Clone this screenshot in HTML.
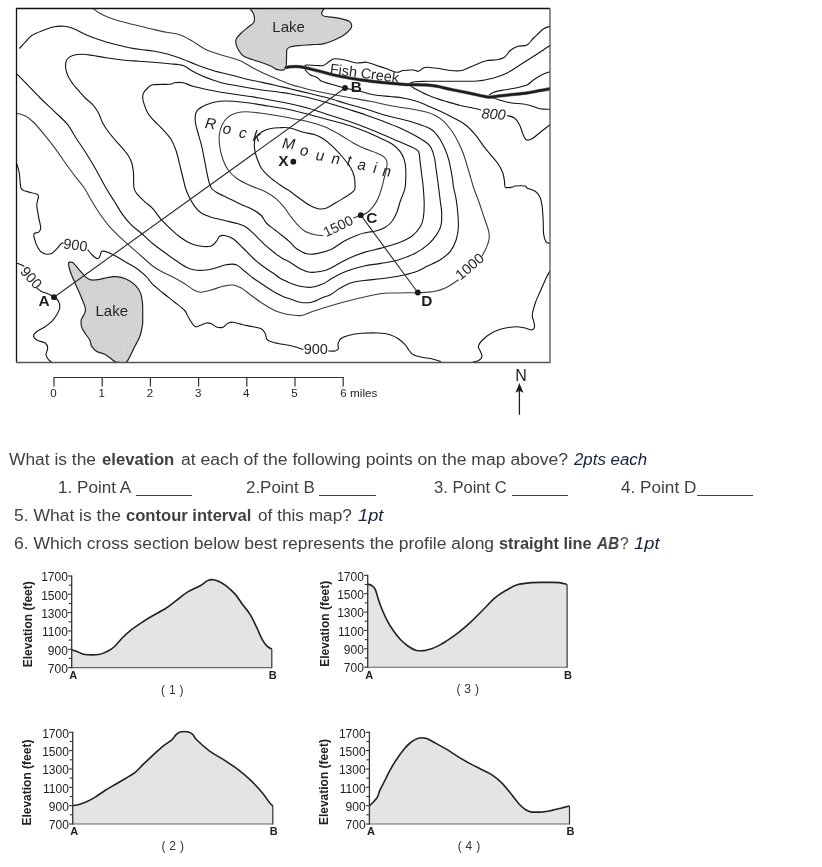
<!DOCTYPE html>
<html><head><meta charset="utf-8"><title>Topographic map worksheet</title>
<style>
html,body{margin:0;padding:0;background:#fff;}
body{width:822px;height:867px;position:relative;overflow:hidden;font-family:"Liberation Sans",sans-serif;}
svg{position:absolute;left:0;top:0;will-change:transform;}
.q{will-change:transform;}
svg text{font-family:"Liberation Sans",sans-serif;}
.q{position:absolute;white-space:nowrap;font-size:15.8px;line-height:20px;color:#404040;transform-origin:0 0;}
.q b{font-weight:bold;}
.q i{font-style:italic;color:#172140;}
.ul{position:absolute;height:1px;background:#404040;}
</style></head><body>


<div class="q" style="left:8.8px;top:449.5px;transform:scaleX(1.1010);">What is the</div>
<div class="q" style="left:102.4px;top:449.5px;transform:scaleX(1.0557);"><b>elevation</b></div>
<div class="q" style="left:180.7px;top:449.5px;transform:scaleX(1.1131);">at each of the following points on the map above?</div>
<div class="q" style="left:574.2px;top:449.5px;transform:scaleX(1.0669);"><i>2pts each</i></div>
<div class="q" style="left:57.5px;top:477.5px;transform:scaleX(1.0824);">1. Point A</div>
<div class="q" style="left:245.9px;top:477.5px;transform:scaleX(1.0716);">2.Point B</div>
<div class="q" style="left:433.7px;top:477.5px;transform:scaleX(1.0479);">3. Point C</div>
<div class="q" style="left:621.2px;top:477.5px;transform:scaleX(1.0854);">4. Point D</div>
<div class="q" style="left:13.6px;top:505.6px;transform:scaleX(1.1067);">5. What is the</div>
<div class="q" style="left:125.5px;top:505.6px;transform:scaleX(1.0505);"><b>contour interval</b></div>
<div class="q" style="left:257.7px;top:505.6px;transform:scaleX(1.0899);">of this map?</div>
<div class="q" style="left:358.0px;top:505.6px;transform:scaleX(1.1562);"><i>1pt</i></div>
<div class="q" style="left:13.6px;top:533.8px;transform:scaleX(1.1068);">6. Which cross section below best represents the profile along</div>
<div class="q" style="left:498.7px;top:533.8px;transform:scaleX(1.0354);"><b>straight line</b></div>
<div class="q" style="left:596.6px;top:533.8px;transform:scaleX(0.9637);"><b><em>AB</em></b></div>
<div class="q" style="left:619.6px;top:533.8px;transform:scaleX(0.9776);">?</div>
<div class="q" style="left:634.3px;top:533.8px;transform:scaleX(1.1607);"><i>1pt</i></div>
<div class="ul" style="left:135.5px;top:495px;width:56.5px;"></div>
<div class="ul" style="left:319px;top:495px;width:57px;"></div>
<div class="ul" style="left:511.7px;top:495px;width:56.5px;"></div>
<div class="ul" style="left:696.5px;top:495px;width:56px;"></div>

<svg width="822" height="867" viewBox="0 0 822 867">
<defs><pattern id="dots" width="2.4" height="2.4" patternUnits="userSpaceOnUse" patternTransform="rotate(45)"><rect width="2.4" height="2.4" fill="#d9d9d9"/><rect width="1.1" height="1.1" fill="#bcbcbc"/></pattern><clipPath id="fr"><rect x="16.5" y="8.5" width="533.5" height="354"/></clipPath></defs>
<g clip-path="url(#fr)">
<path d="M249.7 8.0C250.4 9.1 253.1 12.3 253.8 14.7C254.5 17.1 254.8 20.1 253.8 22.2C252.8 24.3 250.1 25.4 248.0 27.2C245.9 29.0 243.2 31.1 241.3 33.0C239.4 34.9 237.2 37.0 236.3 38.8C235.4 40.6 235.6 41.8 236.0 43.8C236.4 45.8 237.5 48.4 238.8 50.5C240.1 52.6 241.4 54.8 243.8 56.3C246.2 57.8 249.8 58.6 253.0 59.7C256.2 60.8 259.9 61.9 263.0 63.0C266.1 64.1 268.9 65.2 271.3 66.3C273.7 67.4 275.1 69.1 277.2 69.7C279.3 70.3 282.7 70.0 283.8 70.0 L286.3 67.2 L286.7 49.7 L286.7 49.7C287.2 49.2 287.8 47.7 290.0 47.0C292.2 46.3 296.4 45.9 300.0 45.5C303.6 45.1 307.8 45.0 311.7 44.7C315.6 44.4 319.7 44.5 323.3 43.8C326.9 43.1 330.0 41.9 333.3 40.5C336.6 39.1 340.5 37.3 343.3 35.5C346.1 33.7 348.6 31.4 350.0 29.7C351.4 28.0 351.8 26.9 351.7 25.5C351.6 24.1 350.9 22.4 349.2 21.3C347.5 20.2 344.6 19.5 341.7 18.8C338.8 18.1 334.6 17.6 331.7 17.2C328.8 16.8 325.9 16.9 324.2 16.3C322.5 15.7 321.8 14.9 321.7 13.8C321.6 12.7 322.6 10.7 323.3 9.7C324.0 8.7 325.4 8.3 325.8 8.0 Z" fill="url(#dots)" stroke="#222" stroke-width="1.2"/>
<path d="M68.6 262.9C69.0 262.1 71.4 261.8 72.7 262.6C74.0 263.4 77.5 267.9 79.0 269.6C80.5 271.3 83.3 274.6 84.7 275.9C86.1 277.2 88.1 279.2 89.8 279.7C91.5 280.2 96.3 279.9 98.1 279.7C99.9 279.5 102.5 278.6 104.4 278.2C106.3 277.8 111.0 276.7 113.3 276.6C115.6 276.5 120.1 277.0 122.2 277.6C124.3 278.2 128.0 279.9 129.8 281.0C131.6 282.1 134.7 284.6 136.1 286.1C137.5 287.6 139.8 290.9 140.6 293.1C141.4 295.3 142.2 300.5 142.5 303.2C142.8 305.9 142.7 311.9 142.7 314.6C142.7 317.3 142.9 322.1 142.5 324.8C142.1 327.5 141.0 333.3 139.9 336.2C138.8 339.1 135.6 344.9 134.2 347.6C132.8 350.3 130.2 356.0 129.2 357.8C128.2 359.6 127.7 361.6 126.0 362.2C124.3 362.8 117.7 362.7 115.8 362.2C113.9 361.7 112.2 359.4 110.8 358.4C109.4 357.4 106.2 354.9 104.4 354.0C102.6 353.1 98.4 352.4 96.8 351.4C95.2 350.4 92.6 347.8 91.7 346.4C90.8 345.0 90.6 341.6 89.8 340.0C89.0 338.4 86.4 335.3 85.4 333.7C84.4 332.1 82.3 329.1 81.8 327.3C81.3 325.5 80.9 321.5 81.3 319.7C81.7 317.9 84.2 314.8 84.7 313.4C85.2 312.0 85.7 310.1 85.4 308.3C85.1 306.5 83.2 301.8 82.2 299.4C81.2 297.0 79.0 292.0 77.8 289.3C76.6 286.6 73.8 280.4 72.7 277.8C71.6 275.2 70.0 270.9 69.5 269.0C69.0 267.1 68.2 263.7 68.6 262.9Z" fill="url(#dots)" stroke="#222" stroke-width="1.2"/>
<path d="M92.7 8.0C93.8 8.8 96.5 11.4 99.3 13.0C102.1 14.6 105.1 16.2 109.3 17.7C113.5 19.2 119.3 20.8 124.3 22.2C129.3 23.6 134.5 24.8 139.3 26.0C144.1 27.2 148.5 28.3 153.0 29.3C157.5 30.3 161.9 31.3 166.3 32.2C170.8 33.1 175.5 33.3 179.7 34.7C183.9 36.1 186.9 38.0 191.3 40.5C195.7 43.0 201.0 47.2 206.3 49.7C211.6 52.2 217.4 53.7 223.0 55.5C228.6 57.3 234.1 58.1 239.7 60.5C245.2 62.9 250.8 66.9 256.3 69.7C261.9 72.5 267.4 74.8 273.0 77.2C278.6 79.6 284.9 82.4 290.0 84.2C295.1 86.0 298.9 86.8 303.3 88.0C307.8 89.2 311.6 90.2 316.7 91.3C321.8 92.4 328.2 93.7 334.0 94.8C339.8 95.9 345.7 96.9 351.7 98.0C357.7 99.1 363.6 100.0 370.0 101.3C376.4 102.5 383.3 104.2 390.0 105.5C396.7 106.8 403.8 107.7 410.0 108.8C416.2 109.9 422.8 111.1 427.0 112.2C431.2 113.3 432.5 114.0 435.3 115.5C438.1 117.0 440.9 118.7 443.7 121.3C446.5 123.9 449.5 127.7 452.0 131.3C454.5 134.9 456.8 139.1 458.7 143.0C460.6 146.9 462.2 150.5 463.7 154.7C465.2 158.9 466.6 163.8 467.8 168.0C469.1 172.2 470.2 176.4 471.2 179.7C472.2 183.0 472.4 184.4 473.7 188.0C474.9 191.6 477.0 196.6 478.7 201.3C480.4 206.0 482.0 211.3 483.7 216.3C485.4 221.3 487.8 227.4 488.7 231.3C489.6 235.2 489.4 236.9 489.0 239.7C488.6 242.5 487.4 245.2 486.2 248.0C485.0 250.8 482.7 254.9 482.0 256.3" fill="none" stroke="#3a3a3a" stroke-width="1.1" stroke-linejoin="round"/>
<path d="M458.7 279.7C457.9 280.2 455.9 281.6 453.7 283.0C451.5 284.4 448.4 286.6 445.3 288.0C442.2 289.4 438.4 290.6 435.3 291.3C432.2 292.0 429.9 292.0 427.0 292.2C424.1 292.4 423.4 292.6 417.8 292.7C412.2 292.8 399.6 292.8 393.3 293.0C387.0 293.2 386.1 292.8 380.0 293.8C373.9 294.8 364.8 296.9 356.7 298.8C348.6 300.8 338.9 303.4 331.7 305.5C324.5 307.6 318.3 309.6 313.3 311.3C308.3 313.0 305.6 314.9 301.7 315.5C297.8 316.1 292.8 315.0 290.0 314.7C287.2 314.4 287.2 314.5 284.7 313.8C282.1 313.1 278.3 312.2 274.7 310.5C271.1 308.8 266.9 306.3 263.0 303.8C259.1 301.3 254.9 298.1 251.3 295.5C247.7 292.9 244.4 289.8 241.3 288.0C238.2 286.2 236.1 285.3 233.0 285.0C229.9 284.7 226.6 285.5 223.0 286.3C219.4 287.1 214.9 289.0 211.3 290.0C207.7 291.0 204.1 292.1 201.3 292.2C198.5 292.3 197.5 291.9 194.7 290.5C191.9 289.1 188.0 285.9 184.7 283.8C181.4 281.7 178.3 279.9 174.7 278.0C171.1 276.1 166.6 274.1 163.0 272.2C159.4 270.2 157.5 269.8 153.0 266.3C148.5 262.8 141.1 255.7 136.0 251.3C130.9 246.9 127.2 243.9 122.7 239.7C118.2 235.5 113.2 230.8 109.3 226.3C105.4 221.9 102.3 217.4 99.3 213.0C96.2 208.6 93.5 203.9 91.0 199.7C88.5 195.5 86.5 191.3 84.3 188.0C82.1 184.7 80.5 183.3 77.7 179.7C74.9 176.1 71.3 171.3 67.7 166.3C64.1 161.3 59.9 155.0 56.0 149.7C52.1 144.4 47.9 139.1 44.3 134.7C40.7 130.2 37.3 126.1 34.3 123.0C31.2 119.9 28.9 117.9 26.0 116.3C23.1 114.7 18.3 113.8 16.8 113.3" fill="none" stroke="#3a3a3a" stroke-width="1.1" stroke-linejoin="round"/>
<path d="M353.3 218.0C354.6 217.5 358.6 216.0 360.8 215.2C363.0 214.4 364.6 214.5 366.7 213.0C368.8 211.5 371.4 208.8 373.3 206.3C375.2 203.8 376.9 201.1 378.3 198.0C379.7 194.9 380.7 191.3 381.7 188.0C382.7 184.7 383.4 181.1 384.2 178.0C385.0 174.9 385.8 172.3 386.3 169.7C386.8 167.1 387.4 164.3 387.0 162.2C386.6 160.1 385.9 158.7 384.2 157.2C382.5 155.7 380.2 154.5 376.7 153.0C373.2 151.5 367.2 149.7 363.3 148.0C359.4 146.3 357.2 145.2 353.3 143.0C349.4 140.8 345.0 137.5 340.0 134.7C335.0 131.9 328.9 128.5 323.3 126.3C317.8 124.1 312.2 122.7 306.7 121.3C301.1 119.9 295.1 119.0 290.0 118.0C284.9 117.0 281.4 116.3 276.3 115.5C271.2 114.7 264.7 113.6 259.7 113.0C254.7 112.4 250.2 111.7 246.3 111.7C242.4 111.7 239.4 112.1 236.3 113.0C233.2 113.9 230.3 115.2 228.0 117.2C225.7 119.2 223.6 121.8 222.2 124.7C220.8 127.6 219.7 131.1 219.3 134.7C218.9 138.3 219.1 142.1 219.7 146.3C220.3 150.5 221.6 155.8 223.0 159.7C224.4 163.6 225.8 166.6 228.0 169.7C230.2 172.8 233.2 175.7 236.3 178.0C239.4 180.3 243.0 182.1 246.3 183.8C249.6 185.5 253.0 186.6 256.3 188.0C259.6 189.4 263.0 190.4 266.3 192.2C269.6 194.0 273.2 196.2 276.3 198.8C279.4 201.4 282.4 205.2 284.7 208.0C287.0 210.8 288.0 212.9 290.0 215.5C292.0 218.1 294.2 221.2 296.7 223.8C299.2 226.4 301.9 229.5 305.0 231.3C308.1 233.1 311.9 234.0 315.0 234.7C318.1 235.4 321.9 235.4 323.3 235.5" fill="none" stroke="#3a3a3a" stroke-width="1.1" stroke-linejoin="round"/>
<path d="M19.3 48.5C20.4 47.3 23.9 43.5 26.0 41.3C28.1 39.1 29.0 37.3 31.8 35.5C34.6 33.7 39.0 32.0 42.7 30.5C46.5 29.0 50.7 27.4 54.3 26.7C57.9 26.0 61.2 26.0 64.3 26.3C67.4 26.6 69.1 26.9 72.7 28.3C76.3 29.7 81.6 32.8 86.0 34.7C90.4 36.6 94.8 38.2 99.3 39.7C103.8 41.2 107.7 42.5 112.7 43.8C117.7 45.1 124.3 46.7 129.3 47.7C134.3 48.7 138.8 49.2 142.7 49.7C146.6 50.2 149.1 50.3 153.0 51.0C156.9 51.7 161.9 52.6 166.3 53.8C170.8 55.0 174.7 56.2 179.7 58.0C184.7 59.8 190.8 62.6 196.3 64.7C201.9 66.8 206.9 68.7 213.0 70.5C219.1 72.3 226.3 73.8 233.0 75.5C239.7 77.2 246.3 79.0 253.0 80.5C259.7 82.0 266.8 83.3 273.0 84.7C279.2 86.1 283.8 87.3 290.0 88.8C296.2 90.3 303.6 92.0 310.0 93.5C316.4 95.0 322.2 96.3 328.3 98.0C334.4 99.7 340.6 102.0 346.7 103.8C352.8 105.6 358.9 107.0 365.0 108.8C371.1 110.6 377.5 113.0 383.3 114.7C389.1 116.4 394.7 117.4 400.0 118.8C405.3 120.2 410.5 121.6 415.0 123.0C419.5 124.4 423.9 125.8 427.0 127.2C430.1 128.6 431.5 129.2 433.7 131.3C435.9 133.4 438.4 136.6 440.3 139.7C442.2 142.8 443.9 146.4 445.3 149.7C446.7 153.0 447.7 156.1 448.7 159.7C449.7 163.3 450.5 167.7 451.2 171.3C451.9 174.9 452.4 178.5 452.8 181.3C453.2 184.1 453.1 184.9 453.7 188.0C454.3 191.1 455.5 195.5 456.2 199.7C456.9 203.9 457.4 208.3 457.8 213.0C458.2 217.7 458.6 223.6 458.3 228.0C458.0 232.4 457.5 235.8 456.2 239.7C454.9 243.6 452.9 248.0 450.3 251.3C447.7 254.6 444.2 257.2 440.3 259.7C436.4 262.2 431.2 264.2 427.0 266.3C422.8 268.4 420.0 270.4 415.2 272.0C410.4 273.6 403.8 275.1 398.1 276.2C392.4 277.3 386.8 278.1 381.1 278.8C375.4 279.5 369.2 279.8 364.1 280.5C359.0 281.2 354.4 281.7 350.4 283.0C346.4 284.3 343.6 286.1 340.2 288.1C336.8 290.1 332.8 293.5 330.0 295.0C327.2 296.5 326.4 296.0 323.3 297.2C320.2 298.4 315.6 301.4 311.7 302.2C307.8 303.0 303.6 302.8 300.0 302.2C296.4 301.6 292.6 299.6 290.0 298.8C287.4 298.0 287.2 298.3 284.7 297.2C282.1 296.1 278.3 294.3 274.7 292.2C271.1 290.1 266.6 287.1 263.0 284.7C259.4 282.3 256.1 280.2 253.0 278.0C249.9 275.8 247.5 273.5 244.7 271.3C241.9 269.1 239.4 265.8 236.3 264.7C233.2 263.6 229.6 264.2 226.3 264.7C223.0 265.2 219.6 266.8 216.3 267.7C213.0 268.6 209.9 269.6 206.3 270.0C202.7 270.4 198.0 270.5 194.7 270.0C191.4 269.5 189.6 268.9 186.3 267.2C183.0 265.5 178.6 262.3 174.7 259.7C170.8 257.1 166.6 254.0 163.0 251.3C159.4 248.7 156.7 246.9 153.0 243.8C149.3 240.8 144.7 236.2 141.0 233.0C137.3 229.8 134.1 227.8 131.0 224.7C128.0 221.6 125.5 218.6 122.7 214.7C119.9 210.8 117.1 205.8 114.3 201.3C111.5 196.9 109.0 193.3 106.0 188.0C103.0 182.7 99.3 175.5 96.0 169.7C92.7 163.9 89.3 158.3 86.0 153.0C82.7 147.7 79.0 142.7 76.0 138.0C73.0 133.3 71.3 129.2 67.7 124.7C64.1 120.2 58.9 115.8 54.3 111.3C49.7 106.8 46.5 104.2 40.2 98.0C34.0 91.8 20.7 77.8 16.8 73.8" fill="none" stroke="#141414" stroke-width="1.12" stroke-linejoin="round"/>
<path d="M153.0 62.2C147.9 61.8 144.4 61.7 139.3 61.3C134.2 60.9 128.2 60.6 122.7 60.0C117.2 59.4 111.0 58.5 106.0 57.7C101.0 57.0 96.6 56.1 92.7 55.5C88.8 54.9 86.0 54.3 82.7 54.3C79.4 54.3 75.4 54.6 72.7 55.5C70.0 56.4 68.0 58.0 66.8 59.7C65.6 61.4 65.5 63.3 65.5 65.5C65.5 67.7 65.9 70.4 66.8 73.0C67.7 75.6 69.2 78.5 71.0 81.3C72.8 84.1 75.3 86.9 77.7 89.7C80.1 92.5 82.7 95.5 85.2 98.0C87.7 100.5 90.5 102.2 92.7 104.7C94.9 107.2 96.8 110.0 98.5 113.0C100.2 116.0 100.9 119.7 102.7 123.0C104.5 126.3 106.5 129.4 109.3 133.0C112.1 136.6 116.2 141.1 119.3 144.7C122.4 148.3 125.6 151.6 127.7 154.7C129.8 157.8 130.8 159.9 131.8 163.0C132.8 166.1 133.1 168.8 133.5 173.0C133.9 177.2 133.3 184.4 134.0 188.0C134.7 191.6 136.0 192.5 137.7 194.7C139.4 196.9 141.8 199.0 144.3 201.3C146.9 203.7 150.2 205.7 153.0 208.8C155.8 211.9 158.2 216.2 161.3 219.7C164.4 223.2 168.0 226.6 171.3 229.7C174.6 232.8 178.0 235.7 181.3 238.0C184.6 240.3 188.0 242.4 191.3 243.8C194.6 245.2 198.0 245.9 201.3 246.3C204.6 246.7 208.8 246.8 211.3 246.0C213.8 245.2 214.9 242.9 216.3 241.3C217.7 239.7 218.3 237.3 219.7 236.3C221.1 235.3 222.5 235.1 224.7 235.5C226.9 235.9 229.9 236.7 233.0 238.8C236.1 240.9 239.7 244.8 243.0 248.0C246.3 251.2 249.7 254.9 253.0 258.0C256.3 261.1 259.7 263.8 263.0 266.3C266.3 268.8 270.2 271.1 273.0 273.0C275.8 274.9 277.8 276.8 279.7 278.0C281.6 279.2 283.0 279.7 284.7 280.5C286.4 281.3 287.4 282.0 290.0 283.0C292.6 284.0 296.4 285.6 300.0 286.3C303.6 287.0 307.8 287.6 311.7 287.2C315.6 286.8 319.8 285.3 323.3 283.8C326.8 282.3 328.6 280.1 332.5 278.0C336.4 275.9 341.7 273.1 347.0 271.1C352.3 269.1 358.4 267.3 364.1 266.0C369.8 264.7 375.4 264.4 381.1 263.4C386.8 262.4 392.4 261.7 398.1 260.0C403.8 258.3 410.1 255.9 415.2 253.2C420.3 250.5 425.1 247.1 428.8 243.8C432.5 240.5 435.2 236.8 437.3 233.6C439.4 230.4 440.5 228.1 441.2 224.7C441.9 221.3 441.8 216.9 441.7 213.0C441.6 209.1 440.8 205.5 440.3 201.3C439.8 197.1 439.1 191.3 438.7 188.0C438.3 184.7 438.2 184.4 437.8 181.3C437.4 178.2 436.8 173.6 436.2 169.7C435.6 165.8 435.3 161.6 434.5 158.0C433.7 154.4 432.4 150.5 431.2 148.0C429.9 145.5 429.7 145.1 427.0 143.0C424.3 140.9 419.5 138.0 415.0 135.5C410.5 133.0 405.3 130.4 400.0 128.0C394.7 125.6 389.1 123.5 383.3 121.3C377.5 119.1 371.1 116.8 365.0 114.7C358.9 112.6 352.8 110.8 346.7 108.8C340.6 106.8 334.4 104.8 328.3 103.0C322.2 101.2 316.4 99.5 310.0 98.0C303.6 96.5 295.1 94.8 290.0 93.8C284.9 92.8 284.8 92.9 279.7 92.2C274.6 91.5 266.4 90.7 259.7 89.7C253.0 88.7 246.4 87.5 239.7 86.3C233.0 85.0 225.8 83.9 219.7 82.2C213.6 80.5 207.7 78.2 203.0 76.3C198.3 74.3 194.6 72.3 191.3 70.5C188.0 68.7 186.6 66.6 183.0 65.5C179.4 64.4 174.7 64.3 169.7 63.8C164.7 63.2 158.1 62.6 153.0 62.2Z" fill="none" stroke="#141414" stroke-width="1.12" stroke-linejoin="round"/>
<path d="M153.0 84.7C149.3 85.3 149.3 86.6 147.7 88.0C146.1 89.4 144.3 91.3 143.5 93.0C142.7 94.7 142.6 96.0 142.7 98.0C142.8 100.0 143.5 102.2 144.3 104.7C145.1 107.2 146.2 110.5 147.7 113.0C149.1 115.5 150.4 116.9 153.0 119.7C155.6 122.5 159.9 126.4 163.0 129.7C166.1 133.0 169.1 136.1 171.3 139.7C173.5 143.3 174.9 147.1 176.3 151.3C177.7 155.5 178.6 160.2 179.7 164.7C180.8 169.1 182.0 174.1 183.0 178.0C184.0 181.9 184.5 184.9 185.5 188.0C186.5 191.1 187.3 193.2 188.8 196.3C190.3 199.4 192.6 203.5 194.7 206.3C196.8 209.1 198.5 211.2 201.3 213.0C204.1 214.8 207.4 215.9 211.3 217.2C215.2 218.4 220.2 219.4 224.7 220.5C229.1 221.6 234.4 222.7 238.0 223.8C241.6 224.9 243.5 225.4 246.3 227.2C249.1 229.0 251.6 231.8 254.7 234.7C257.8 237.6 261.4 241.6 264.7 244.7C268.0 247.8 271.6 250.7 274.7 253.0C277.8 255.3 280.4 257.3 283.0 258.8C285.6 260.3 287.2 260.5 290.0 262.2C292.8 263.9 296.7 267.1 300.0 268.8C303.3 270.5 306.4 271.8 310.0 272.2C313.6 272.6 318.4 271.9 321.7 271.3C325.0 270.7 325.8 270.5 330.0 268.5C334.2 266.5 341.3 261.9 347.0 259.2C352.7 256.5 358.4 254.2 364.1 252.4C369.8 250.6 375.4 249.7 381.1 248.1C386.8 246.5 393.0 245.0 398.1 243.0C403.2 241.0 408.1 238.9 411.8 236.2C415.5 233.5 418.4 229.8 420.3 226.8C422.2 223.8 422.7 221.7 423.3 218.0C423.9 214.3 424.2 209.7 424.2 204.7C424.2 199.7 423.7 193.0 423.3 188.0C422.9 183.0 422.2 179.1 421.7 174.7C421.1 170.2 420.6 165.2 420.0 161.3C419.4 157.4 420.0 153.8 418.3 151.3C416.6 148.8 413.3 148.0 410.0 146.3C406.7 144.6 402.8 143.2 398.3 141.3C393.9 139.4 388.9 137.0 383.3 134.7C377.8 132.3 371.1 129.6 365.0 127.2C358.9 124.8 352.8 122.6 346.7 120.5C340.6 118.4 334.4 116.7 328.3 114.7C322.2 112.8 316.4 110.6 310.0 108.8C303.6 107.0 298.4 105.6 290.0 103.8C281.6 102.0 267.0 99.3 259.7 98.0C252.4 96.7 251.9 96.8 246.3 96.0C240.7 95.2 232.7 94.0 226.3 93.0C219.9 92.0 213.6 90.8 208.0 89.7C202.4 88.6 197.2 87.5 193.0 86.3C188.8 85.1 186.1 83.3 183.0 82.7C179.9 82.1 176.9 82.4 174.7 82.7C172.5 83.0 173.3 84.0 169.7 84.3C166.1 84.6 156.7 84.1 153.0 84.7Z" fill="none" stroke="#141414" stroke-width="1.12" stroke-linejoin="round"/>
<path d="M290.0 109.7C283.3 108.3 276.4 107.4 269.7 106.3C263.0 105.2 255.8 103.8 249.7 103.0C243.6 102.2 238.0 101.6 233.0 101.3C228.0 101.0 224.1 100.7 219.7 101.3C215.2 101.9 209.9 103.3 206.3 104.7C202.7 106.1 199.8 108.0 198.0 109.7C196.2 111.4 195.9 112.5 195.5 114.7C195.1 116.9 195.1 120.0 195.5 123.0C195.9 126.0 197.0 129.4 198.0 133.0C199.0 136.6 200.3 140.8 201.3 144.7C202.3 148.6 203.0 152.1 203.8 156.3C204.6 160.5 205.5 165.5 206.3 169.7C207.1 173.9 208.0 178.2 208.8 181.3C209.6 184.4 210.1 186.2 211.3 188.0C212.6 189.8 213.8 190.7 216.3 192.2C218.8 193.7 222.4 195.3 226.3 197.2C230.2 199.1 235.2 201.7 239.7 203.8C244.1 205.9 249.4 207.8 253.0 209.7C256.6 211.6 259.1 213.3 261.3 215.5C263.5 217.7 264.1 220.6 266.3 223.0C268.5 225.4 271.9 227.5 274.7 229.7C277.5 231.9 280.4 234.2 283.0 236.3C285.6 238.4 287.7 240.1 290.0 242.2C292.3 244.3 293.9 246.9 296.7 248.8C299.5 250.7 303.4 253.0 306.7 253.8C310.0 254.6 312.6 254.3 316.7 253.6C320.8 252.9 326.5 251.5 331.0 249.5C335.5 247.5 339.2 243.9 343.5 241.5C347.8 239.1 353.2 236.7 357.0 235.2C360.8 233.7 362.9 233.3 366.0 232.6C369.1 231.9 372.6 231.8 375.7 231.0C378.8 230.2 381.9 229.2 384.5 227.7C387.1 226.2 389.4 224.5 391.5 222.0C393.6 219.5 395.3 216.1 396.8 212.5C398.3 208.9 399.1 204.6 400.5 200.5C401.9 196.4 404.1 193.1 405.0 188.0C405.9 182.9 405.9 174.4 405.8 169.7C405.7 165.0 405.2 162.8 404.2 159.7C403.2 156.6 402.1 154.0 400.0 151.3C397.9 148.7 395.0 146.0 391.7 143.8C388.4 141.6 384.4 140.1 380.0 138.0C375.6 135.9 370.6 133.5 365.0 131.3C359.4 129.1 352.8 126.6 346.7 124.7C340.6 122.8 334.4 121.4 328.3 119.7C322.2 118.0 316.4 116.4 310.0 114.7C303.6 113.0 296.7 111.1 290.0 109.7Z" fill="none" stroke="#141414" stroke-width="1.12" stroke-linejoin="round"/>
<path d="M290.0 128.0C286.1 127.2 283.1 127.6 279.7 127.7C276.3 127.8 272.8 128.1 269.7 128.8C266.6 129.6 263.7 130.7 261.3 132.2C258.9 133.7 256.7 135.7 255.5 138.0C254.3 140.3 254.2 143.2 254.3 146.3C254.4 149.4 255.1 152.7 256.3 156.3C257.5 159.9 259.1 164.5 261.3 168.0C263.5 171.5 266.6 174.4 269.7 177.2C272.8 180.0 277.2 182.9 279.7 184.7C282.2 186.5 283.0 186.9 284.7 188.0C286.4 189.1 287.4 189.5 290.0 191.3C292.6 193.1 296.7 196.4 300.0 198.8C303.3 201.2 306.9 203.8 310.0 205.5C313.1 207.2 315.5 208.4 318.3 208.8C321.1 209.2 323.6 209.1 326.7 208.0C329.8 206.9 333.4 204.1 336.7 202.2C340.0 200.2 343.9 198.1 346.7 196.3C349.5 194.5 351.9 192.7 353.3 191.3C354.7 189.9 354.9 190.5 355.0 188.0C355.1 185.5 354.9 179.6 354.2 176.3C353.5 173.0 352.6 171.1 350.8 168.0C349.0 164.9 346.2 161.5 343.3 158.0C340.4 154.5 336.6 150.4 333.3 147.2C330.0 144.0 326.4 140.9 323.3 138.8C320.2 136.7 318.3 135.8 315.0 134.7C311.7 133.6 307.5 133.3 303.3 132.2C299.1 131.1 293.9 128.8 290.0 128.0Z" fill="none" stroke="#141414" stroke-width="1.12" stroke-linejoin="round"/>
<path d="M16.8 163.8C17.2 165.3 18.6 169.0 19.3 173.0C20.0 177.0 19.9 184.9 21.0 188.0C22.1 191.1 23.5 190.3 26.0 191.3C28.5 192.3 33.9 193.0 36.0 193.8C38.1 194.6 38.4 194.5 38.5 196.3C38.6 198.1 36.8 201.4 36.8 204.7C36.8 208.0 37.9 212.4 38.5 216.3C39.1 220.2 40.7 225.3 40.7 228.0C40.7 230.7 39.6 231.2 38.5 232.2C37.4 233.2 34.6 232.6 34.0 233.8C33.4 235.1 34.1 237.5 34.7 239.7C35.3 241.9 36.4 245.0 37.7 247.2C39.0 249.4 40.5 251.9 42.7 253.0C44.9 254.1 48.6 254.5 51.0 253.8C53.4 253.1 55.1 250.5 56.8 248.8C58.5 247.1 59.9 244.8 61.0 243.8C62.1 242.8 63.1 242.9 63.5 242.7" fill="none" stroke="#141414" stroke-width="1.12" stroke-linejoin="round"/>
<path d="M87.7 249.7C88.5 250.7 91.0 254.0 92.7 255.5C94.4 257.0 96.5 258.8 97.7 258.8C99.0 258.8 99.5 256.8 100.2 255.5C100.9 254.2 100.5 251.9 101.8 251.3C103.0 250.8 105.3 251.4 107.7 252.2C110.1 253.0 113.0 254.6 116.0 256.3C119.0 258.0 122.7 260.2 126.0 262.2C129.3 264.1 132.9 265.9 136.0 268.0C139.1 270.1 142.4 273.0 144.3 274.7C146.2 276.4 146.2 276.3 147.7 278.0C149.1 279.7 150.4 282.2 153.0 284.7C155.6 287.2 159.4 290.1 163.0 293.0C166.6 295.9 171.1 299.3 174.7 302.2C178.3 305.1 182.3 307.9 184.7 310.5C187.0 313.1 187.1 315.4 188.8 318.0C190.5 320.6 192.9 325.1 194.7 326.3C196.5 327.6 197.8 326.1 199.7 325.5C201.6 324.9 204.4 323.3 206.3 323.0C208.2 322.7 209.5 323.1 211.3 323.8C213.1 324.5 215.2 326.6 217.2 327.2C219.1 327.8 221.2 327.8 223.0 327.2C224.8 326.6 226.3 324.1 228.0 323.3C229.7 322.5 230.5 322.0 233.0 322.2C235.5 322.4 239.7 323.9 243.0 324.7C246.3 325.4 249.9 326.0 253.0 326.7C256.1 327.4 259.3 327.8 261.3 328.8C263.3 329.9 264.0 331.2 265.0 333.0C266.0 334.8 265.9 338.2 267.2 339.7C268.5 341.2 270.4 341.4 273.0 342.2C275.6 343.0 280.2 343.8 283.0 344.3C285.8 344.9 287.7 345.0 290.0 345.5C292.3 346.0 294.5 346.5 296.7 347.2C298.9 347.9 302.2 349.3 303.3 349.7" fill="none" stroke="#141414" stroke-width="1.12" stroke-linejoin="round"/>
<path d="M328.3 351.0C329.4 351.0 333.3 351.4 335.0 351.0C336.7 350.6 337.8 350.0 338.3 348.8C338.8 347.6 337.6 345.5 338.0 343.8C338.4 342.1 339.1 340.2 340.8 338.8C342.5 337.4 344.8 336.4 348.3 335.5C351.8 334.6 356.7 333.7 361.7 333.3C366.7 332.9 373.6 332.8 378.3 333.0C383.0 333.2 386.7 333.7 390.0 334.7C393.3 335.7 395.8 337.1 398.3 338.8C400.8 340.5 403.2 342.8 405.0 344.7C406.8 346.6 407.8 348.8 409.2 350.5C410.6 352.2 411.2 353.6 413.3 354.7C415.4 355.8 419.4 356.6 421.7 357.2C424.0 357.8 424.7 357.6 427.0 358.0C429.3 358.4 432.9 359.1 435.3 359.7C437.7 360.3 440.2 361.4 441.2 361.8" fill="none" stroke="#141414" stroke-width="1.12" stroke-linejoin="round"/>
<path d="M472.8 362.0C473.8 361.8 477.2 361.4 478.7 360.5C480.2 359.6 481.7 357.8 482.0 356.3C482.3 354.8 480.9 353.0 480.3 351.3C479.7 349.6 478.0 348.1 478.3 346.3C478.6 344.5 480.0 342.6 482.0 340.5C484.0 338.4 487.2 335.7 490.3 333.8C493.4 331.9 497.0 330.4 500.3 329.3C503.6 328.2 507.5 327.6 510.3 327.2C513.1 326.8 514.5 326.6 517.0 326.7C519.5 326.8 522.9 327.4 525.3 328.0C527.7 328.6 529.7 330.1 531.2 330.0C532.7 329.9 534.1 328.6 534.5 327.2C534.9 325.8 534.1 323.4 533.7 321.3C533.3 319.2 532.0 317.8 532.3 314.7C532.6 311.6 534.0 306.9 535.3 303.0C536.6 299.1 538.5 295.5 540.3 291.3C542.1 287.1 544.6 281.4 546.2 278.0C547.8 274.6 549.4 272.2 550.0 271.0" fill="none" stroke="#141414" stroke-width="1.12" stroke-linejoin="round"/>
<path d="M36.8 288.0C37.5 288.6 39.2 290.3 41.0 291.3C42.8 292.3 45.5 292.9 47.7 293.8C49.9 294.7 52.2 295.4 54.0 296.7C55.8 297.9 57.5 299.4 58.5 301.3C59.5 303.2 60.0 305.8 59.7 308.0C59.4 310.2 58.1 312.5 56.8 314.7C55.5 316.9 53.9 319.2 51.8 321.3C49.7 323.4 46.9 325.4 44.3 327.2C41.7 329.0 37.8 330.7 36.0 332.2C34.2 333.7 33.2 334.9 33.5 336.3C33.8 337.7 35.8 339.4 37.7 340.5C39.7 341.6 43.5 341.8 45.2 343.0C46.9 344.2 47.6 346.1 47.7 348.0C47.8 349.9 45.9 352.8 46.0 354.7C46.1 356.6 47.4 358.3 48.5 359.7C49.6 361.1 52.0 362.4 52.7 363.0" fill="none" stroke="#141414" stroke-width="1.12" stroke-linejoin="round"/>
<path d="M16.8 263.3C17.4 263.5 19.2 264.0 20.5 264.5C21.8 265.0 23.7 266.1 24.3 266.4" fill="none" stroke="#141414" stroke-width="1.12" stroke-linejoin="round"/>
<path d="M304.2 66.3C304.5 67.0 304.8 69.1 305.8 70.5C306.8 71.9 308.2 73.6 310.0 74.7C311.8 75.8 314.8 76.1 316.7 77.2C318.6 78.3 319.5 80.2 321.7 81.3C323.9 82.4 327.2 83.0 330.0 83.8C332.8 84.6 335.8 85.6 338.3 86.3C340.8 87.0 341.4 87.2 345.0 88.0C348.6 88.8 355.3 90.2 360.0 91.3C364.7 92.4 368.3 93.8 373.3 94.7C378.3 95.6 385.0 96.0 390.0 96.5C395.0 97.0 398.9 97.2 403.3 98.0C407.8 98.8 412.8 100.0 416.7 101.3C420.6 102.5 423.1 103.8 427.0 105.5C430.9 107.2 435.9 109.2 440.3 111.3C444.8 113.4 449.5 115.8 453.7 118.0C457.9 120.2 461.7 121.9 465.3 124.7C468.9 127.5 472.2 131.1 475.3 134.7C478.4 138.3 480.9 142.7 483.7 146.3C486.5 149.9 489.5 153.2 492.0 156.3C494.5 159.4 496.9 161.9 498.7 164.7C500.5 167.5 501.8 170.2 502.8 173.0C503.8 175.8 504.1 178.9 504.5 181.3C504.9 183.7 504.1 186.2 505.3 187.2C506.6 188.2 510.3 187.4 512.0 187.2C513.7 187.0 513.1 186.2 515.3 186.0C517.5 185.8 523.3 185.7 525.3 186.0C527.2 186.3 525.3 187.1 527.0 188.0C528.7 188.9 533.1 189.6 535.3 191.3C537.5 193.0 539.1 195.2 540.3 198.0C541.5 200.8 541.8 204.1 542.3 208.0C542.8 211.9 543.0 216.9 543.2 221.3C543.4 225.8 543.2 231.2 543.7 234.7C544.2 238.2 545.2 240.8 546.2 242.2C547.2 243.6 549.4 242.9 550.0 243.0" fill="none" stroke="#141414" stroke-width="1.12" stroke-linejoin="round"/>
<path d="M304.2 66.3C304.6 66.1 304.6 65.1 306.7 65.0C308.8 64.9 313.9 65.4 316.7 65.5C319.5 65.6 321.4 66.0 323.3 65.5C325.2 65.0 326.5 63.3 328.3 62.2C330.1 61.1 331.4 59.2 334.2 58.8C337.0 58.4 341.2 59.3 345.0 60.0C348.8 60.7 353.1 62.6 356.7 63.0C360.3 63.4 363.4 61.8 366.7 62.2C370.0 62.6 373.4 64.4 376.7 65.5C380.0 66.6 383.4 67.7 386.7 68.8C390.0 69.9 393.9 71.9 396.7 72.2C399.5 72.5 400.5 70.9 403.3 70.5C406.1 70.1 410.8 69.9 413.3 70.0C415.8 70.1 416.6 71.6 418.3 71.3C420.0 71.0 421.9 68.7 423.3 68.0C424.8 67.3 424.7 67.2 427.0 67.2C429.3 67.2 433.1 67.8 437.0 68.3C440.9 68.8 446.1 70.1 450.3 70.5C454.5 70.9 458.4 71.2 462.0 70.5C465.6 69.8 468.1 67.9 472.0 66.3C475.9 64.7 481.1 62.1 485.3 61.0C489.5 59.9 493.8 60.3 497.0 59.7C500.2 59.1 502.3 58.7 504.5 57.2C506.7 55.7 508.1 52.3 510.3 50.5C512.5 48.7 515.0 47.2 517.8 46.3C520.6 45.4 524.4 46.4 527.0 45.0C529.6 43.6 530.9 40.7 533.7 38.0C536.5 35.3 541.0 30.8 543.7 28.8C546.4 26.9 549.0 26.7 550.0 26.3" fill="none" stroke="#141414" stroke-width="1.12" stroke-linejoin="round"/>
<path d="M409.2 83.5C410.2 83.2 412.0 82.1 415.0 81.7C418.0 81.3 420.8 81.4 427.0 81.3C433.2 81.2 443.7 81.3 452.0 81.3C460.3 81.2 470.1 81.5 477.0 81.0C483.9 80.5 488.7 79.3 493.7 78.0C498.7 76.7 502.6 75.2 507.0 73.0C511.4 70.8 515.8 67.5 520.3 64.7C524.8 61.9 529.8 58.8 533.7 56.3C537.6 53.8 541.0 51.5 543.7 49.7C546.4 47.9 549.0 46.2 550.0 45.5" fill="none" stroke="#141414" stroke-width="1.12" stroke-linejoin="round"/>
<path d="M409.0 84.7C410.0 85.4 412.9 87.5 415.0 88.8C417.1 90.0 419.7 91.2 421.7 92.2C423.7 93.2 424.7 93.7 427.0 94.7C429.3 95.7 432.2 96.9 435.3 98.0C438.4 99.1 441.1 100.0 445.3 101.3C449.5 102.5 455.6 104.3 460.3 105.5C465.0 106.7 470.2 107.5 473.7 108.3C477.2 109.0 479.9 109.7 481.2 110.0" fill="none" stroke="#141414" stroke-width="1.12" stroke-linejoin="round"/>
<path d="M507.0 115.5C508.2 115.9 512.4 116.5 514.5 118.0C516.6 119.5 518.1 122.1 519.5 124.7C520.9 127.3 521.7 131.3 522.8 133.8C523.9 136.3 524.7 138.9 526.2 139.7C527.7 140.5 529.6 140.1 532.0 138.8C534.4 137.6 537.3 134.5 540.3 132.2C543.3 129.8 548.4 126.0 550.0 124.7" fill="none" stroke="#141414" stroke-width="1.12" stroke-linejoin="round"/>
<path d="M488.7 95.5C489.5 95.0 490.9 93.2 493.7 92.2C496.5 91.2 501.4 90.5 505.3 89.7C509.2 89.0 513.4 88.5 517.0 87.7C520.6 86.9 524.2 86.3 527.0 85.0C529.8 83.7 531.2 81.4 533.7 79.7C536.2 78.0 539.3 76.0 542.0 74.7C544.7 73.4 548.7 72.2 550.0 71.7" fill="none" stroke="#141414" stroke-width="1.12" stroke-linejoin="round"/>
<path d="M489.5 97.2C491.0 97.6 495.2 98.8 498.7 99.7C502.2 100.6 505.6 101.9 510.3 102.7C515.0 103.5 522.0 103.7 527.0 104.7C532.0 105.7 536.5 108.0 540.3 108.8C544.1 109.6 548.4 109.2 550.0 109.3" fill="none" stroke="#141414" stroke-width="1.12" stroke-linejoin="round"/>
<path d="M286.0 67.5C286.7 67.4 287.7 66.8 290.0 66.7C292.3 66.6 296.7 66.4 300.0 66.7C303.3 67.0 306.1 67.9 310.0 68.8C313.9 69.7 318.3 71.0 323.3 72.2C328.3 73.5 333.9 75.0 340.0 76.3C346.1 77.5 353.3 78.7 360.0 79.7C366.7 80.7 373.9 81.5 380.0 82.2C386.1 82.9 391.7 83.4 396.7 83.8C401.7 84.2 404.9 84.5 410.0 84.7C415.1 84.9 422.5 84.7 427.0 85.0C431.5 85.3 432.8 85.5 437.0 86.3C441.2 87.1 446.7 88.6 452.0 89.7C457.3 90.8 463.4 91.9 468.7 93.0C474.0 94.1 480.2 95.6 483.7 96.3C487.2 97.0 487.3 97.2 489.5 97.2C491.7 97.2 493.5 96.7 497.0 96.3C500.5 95.9 505.3 95.2 510.3 94.7C515.3 94.2 522.0 93.7 527.0 93.0C532.0 92.3 536.5 91.2 540.3 90.5C544.1 89.8 548.4 89.1 550.0 88.8" fill="none" stroke="#8a8a8a" stroke-width="3.6" stroke-linecap="round"/>
<path d="M286.0 67.5C286.7 67.4 287.7 66.8 290.0 66.7C292.3 66.6 296.7 66.4 300.0 66.7C303.3 67.0 306.1 67.9 310.0 68.8C313.9 69.7 318.3 71.0 323.3 72.2C328.3 73.5 333.9 75.0 340.0 76.3C346.1 77.5 353.3 78.7 360.0 79.7C366.7 80.7 373.9 81.5 380.0 82.2C386.1 82.9 391.7 83.4 396.7 83.8C401.7 84.2 404.9 84.5 410.0 84.7C415.1 84.9 422.5 84.7 427.0 85.0C431.5 85.3 432.8 85.5 437.0 86.3C441.2 87.1 446.7 88.6 452.0 89.7C457.3 90.8 463.4 91.9 468.7 93.0C474.0 94.1 480.2 95.6 483.7 96.3C487.2 97.0 487.3 97.2 489.5 97.2C491.7 97.2 493.5 96.7 497.0 96.3C500.5 95.9 505.3 95.2 510.3 94.7C515.3 94.2 522.0 93.7 527.0 93.0C532.0 92.3 536.5 91.2 540.3 90.5C544.1 89.8 548.4 89.1 550.0 88.8" fill="none" stroke="#1c1c1c" stroke-width="2.4" stroke-linecap="round"/>
<path d="M54 297.2 L345 88" stroke="#2a2a2a" stroke-width="1.1" fill="none"/>
<path d="M360.8 215.2 L417.8 292.5" stroke="#2a2a2a" stroke-width="1.1" fill="none"/>
</g>
<path d="M16.5 362.5 V8.5 H550" fill="none" stroke="#111" stroke-width="1.3"/>
<path d="M550 8.5 V362.5 H16.5" fill="none" stroke="#555" stroke-width="1.3"/>
<circle cx="54.0" cy="297.2" r="2.9" fill="#1a1a1a"/>
<circle cx="345.0" cy="88.0" r="2.9" fill="#1a1a1a"/>
<circle cx="360.8" cy="215.2" r="2.9" fill="#1a1a1a"/>
<circle cx="417.8" cy="292.5" r="2.9" fill="#1a1a1a"/>
<circle cx="293.3" cy="161.7" r="2.9" fill="#1a1a1a"/>
<text x="272.3" y="31.7" font-size="15" fill="#262626">Lake</text>
<text x="95.5" y="316" font-size="15" fill="#262626">Lake</text>
<text transform="translate(329.4 73.6) rotate(7.5)" font-size="14.4" fill="#262626">Fish Creek</text>
<text x="350.8" y="92.2" font-weight="bold" font-size="15.4" fill="#1e1e1e">B</text>
<text x="38.6" y="305.8" font-weight="bold" font-size="15.4" fill="#1e1e1e">A</text>
<text x="366.3" y="223.3" font-weight="bold" font-size="15.4" fill="#1e1e1e">C</text>
<text x="421.3" y="306.2" font-weight="bold" font-size="15.4" fill="#1e1e1e">D</text>
<text x="278.3" y="166.3" font-weight="bold" font-size="15.4" fill="#1e1e1e">X</text>
<text transform="translate(210.5 123.8) rotate(7)" font-size="15.2" font-style="italic" text-anchor="middle" fill="#222"><tspan dy="5">R</tspan></text>
<text transform="translate(227.0 128.8) rotate(7)" font-size="15.2" font-style="italic" text-anchor="middle" fill="#222"><tspan dy="5">o</tspan></text>
<text transform="translate(243.0 133.0) rotate(7)" font-size="15.2" font-style="italic" text-anchor="middle" fill="#222"><tspan dy="5">c</tspan></text>
<text transform="translate(257.0 136.3) rotate(7)" font-size="15.2" font-style="italic" text-anchor="middle" fill="#222"><tspan dy="5">k</tspan></text>
<text transform="translate(288.6 143.9) rotate(7)" font-size="15.2" font-style="italic" text-anchor="middle" fill="#222"><tspan dy="5">M</tspan></text>
<text transform="translate(304.2 150.5) rotate(7)" font-size="15.2" font-style="italic" text-anchor="middle" fill="#222"><tspan dy="5">o</tspan></text>
<text transform="translate(320.0 155.5) rotate(7)" font-size="15.2" font-style="italic" text-anchor="middle" fill="#222"><tspan dy="5">u</tspan></text>
<text transform="translate(335.8 158.8) rotate(7)" font-size="15.2" font-style="italic" text-anchor="middle" fill="#222"><tspan dy="5">n</tspan></text>
<text transform="translate(349.2 160.5) rotate(7)" font-size="15.2" font-style="italic" text-anchor="middle" fill="#222"><tspan dy="5">t</tspan></text>
<text transform="translate(361.7 164.7) rotate(7)" font-size="15.2" font-style="italic" text-anchor="middle" fill="#222"><tspan dy="5">a</tspan></text>
<text transform="translate(375.0 168.0) rotate(7)" font-size="15.2" font-style="italic" text-anchor="middle" fill="#222"><tspan dy="5">i</tspan></text>
<text transform="translate(386.7 171.3) rotate(7)" font-size="15.2" font-style="italic" text-anchor="middle" fill="#222"><tspan dy="5">n</tspan></text>
<text transform="translate(493.7 113.8) rotate(4)" font-size="14.5" font-style="italic" text-anchor="middle" fill="#262626"><tspan dy="5.2">800</tspan></text>
<text transform="translate(338.0 225.8) rotate(-26)" font-size="14" text-anchor="middle" fill="#262626"><tspan dy="5.2">1500</tspan></text>
<text transform="translate(469.5 266.3) rotate(-40)" font-size="14.5" text-anchor="middle" fill="#262626"><tspan dy="5.2">1000</tspan></text>
<text transform="translate(75.5 244.7) rotate(8)" font-size="14.5" text-anchor="middle" fill="#262626"><tspan dy="5.2">900</tspan></text>
<text transform="translate(31.4 277.6) rotate(48)" font-size="14.5" text-anchor="middle" fill="#262626"><tspan dy="5.2">900</tspan></text>
<text transform="translate(315.8 348.8)" font-size="14.5" text-anchor="middle" fill="#262626"><tspan dy="5.2">900</tspan></text>
<path d="M54 377.5 H343.3" stroke="#333" stroke-width="1.2" fill="none"/>
<path d="M54.0 377 V386.6" stroke="#333" stroke-width="1.2"/>
<text x="53.5" y="396.6" font-size="11.5" text-anchor="middle" fill="#262626">0</text>
<path d="M102.2 377 V386.6" stroke="#333" stroke-width="1.2"/>
<text x="101.7" y="396.6" font-size="11.5" text-anchor="middle" fill="#262626">1</text>
<path d="M150.4 377 V386.6" stroke="#333" stroke-width="1.2"/>
<text x="149.9" y="396.6" font-size="11.5" text-anchor="middle" fill="#262626">2</text>
<path d="M198.6 377 V386.6" stroke="#333" stroke-width="1.2"/>
<text x="198.1" y="396.6" font-size="11.5" text-anchor="middle" fill="#262626">3</text>
<path d="M246.8 377 V386.6" stroke="#333" stroke-width="1.2"/>
<text x="246.3" y="396.6" font-size="11.5" text-anchor="middle" fill="#262626">4</text>
<path d="M295.0 377 V386.6" stroke="#333" stroke-width="1.2"/>
<text x="294.5" y="396.6" font-size="11.5" text-anchor="middle" fill="#262626">5</text>
<path d="M343.2 377 V386.6" stroke="#333" stroke-width="1.2"/>
<text x="340.3" y="396.6" font-size="11.7" fill="#262626">6 miles</text>
<text x="521" y="380.7" font-size="16" text-anchor="middle" fill="#1e1e1e">N</text>
<path d="M519.4 390 V414.7" stroke="#1e1e1e" stroke-width="1.3"/>
<path d="M519.4 383 L523.4 392.8 L519.4 390.8 L515.4 392.8 Z" fill="#1e1e1e"/>
<path d="M71.7 649.7C72.8 650.1 75.9 651.1 78.1 651.9C80.3 652.7 81.5 654.1 84.9 654.5C88.3 654.9 95.2 654.9 98.6 654.5C102.0 654.1 103.4 653.1 105.4 652.3C107.4 651.5 108.8 650.8 110.5 649.7C112.2 648.6 113.6 647.5 115.6 645.5C117.6 643.5 119.9 640.4 122.4 637.8C125.0 635.2 127.8 632.6 130.9 630.1C134.0 627.6 137.9 625.0 141.2 622.8C144.5 620.6 146.8 619.1 150.9 616.7C155.0 614.3 161.2 611.2 165.5 608.5C169.8 605.8 172.8 603.0 176.5 600.3C180.2 597.6 183.5 594.5 187.4 592.1C191.3 589.7 196.8 587.6 200.2 585.7C203.5 583.8 205.4 581.6 207.5 580.6C209.6 579.6 211.2 579.6 213.0 579.7C214.8 579.8 216.4 580.2 218.5 581.2C220.6 582.2 223.1 583.6 225.8 585.7C228.5 587.8 232.2 590.9 234.9 593.9C237.6 596.9 239.6 600.5 242.2 604.0C244.8 607.5 248.0 610.9 250.4 614.9C252.8 618.9 254.8 623.6 256.8 627.7C258.8 631.8 260.6 636.6 262.3 639.6C264.0 642.6 265.2 644.3 266.8 645.9C268.4 647.5 271.0 648.7 271.8 649.2 L271.8 667.6 L71.7 667.6 Z" fill="#e4e4e4" stroke="none"/>
<path d="M71.7 667.6 H271.8" stroke="#666" stroke-width="1.15" fill="none"/>
<path d="M271.8 649.2 V668.2" stroke="#333" stroke-width="1.2" fill="none"/>
<path d="M71.7 649.7C72.8 650.1 75.9 651.1 78.1 651.9C80.3 652.7 81.5 654.1 84.9 654.5C88.3 654.9 95.2 654.9 98.6 654.5C102.0 654.1 103.4 653.1 105.4 652.3C107.4 651.5 108.8 650.8 110.5 649.7C112.2 648.6 113.6 647.5 115.6 645.5C117.6 643.5 119.9 640.4 122.4 637.8C125.0 635.2 127.8 632.6 130.9 630.1C134.0 627.6 137.9 625.0 141.2 622.8C144.5 620.6 146.8 619.1 150.9 616.7C155.0 614.3 161.2 611.2 165.5 608.5C169.8 605.8 172.8 603.0 176.5 600.3C180.2 597.6 183.5 594.5 187.4 592.1C191.3 589.7 196.8 587.6 200.2 585.7C203.5 583.8 205.4 581.6 207.5 580.6C209.6 579.6 211.2 579.6 213.0 579.7C214.8 579.8 216.4 580.2 218.5 581.2C220.6 582.2 223.1 583.6 225.8 585.7C228.5 587.8 232.2 590.9 234.9 593.9C237.6 596.9 239.6 600.5 242.2 604.0C244.8 607.5 248.0 610.9 250.4 614.9C252.8 618.9 254.8 623.6 256.8 627.7C258.8 631.8 260.6 636.6 262.3 639.6C264.0 642.6 265.2 644.3 266.8 645.9C268.4 647.5 271.0 648.7 271.8 649.2" fill="none" stroke="#222" stroke-width="1.6" stroke-linejoin="round"/>
<path d="M71.7 575.4 V668.2" stroke="#333" stroke-width="1.3" fill="none"/>
<path d="M68.1 576.0 H71.7" stroke="#333" stroke-width="1.1"/>
<text x="67.9" y="581.2" font-size="12" text-anchor="end" fill="#222">1700</text>
<path d="M68.7 585.2 H71.7" stroke="#333" stroke-width="1.1"/>
<path d="M68.1 594.3 H71.7" stroke="#333" stroke-width="1.1"/>
<text x="67.9" y="599.5" font-size="12" text-anchor="end" fill="#222">1500</text>
<path d="M68.7 603.5 H71.7" stroke="#333" stroke-width="1.1"/>
<path d="M68.1 612.6 H71.7" stroke="#333" stroke-width="1.1"/>
<text x="67.9" y="617.8" font-size="12" text-anchor="end" fill="#222">1300</text>
<path d="M68.7 621.8 H71.7" stroke="#333" stroke-width="1.1"/>
<path d="M68.1 631.0 H71.7" stroke="#333" stroke-width="1.1"/>
<text x="67.9" y="636.2" font-size="12" text-anchor="end" fill="#222">1100</text>
<path d="M68.7 640.1 H71.7" stroke="#333" stroke-width="1.1"/>
<path d="M68.1 649.3 H71.7" stroke="#333" stroke-width="1.1"/>
<text x="67.9" y="654.5" font-size="12" text-anchor="end" fill="#222">900</text>
<path d="M68.7 658.4 H71.7" stroke="#333" stroke-width="1.1"/>
<path d="M68.1 667.6 H71.7" stroke="#333" stroke-width="1.1"/>
<text x="67.9" y="672.8" font-size="12" text-anchor="end" fill="#222">700</text>
<text transform="translate(32.0 624.3) rotate(-90)" font-size="12" font-weight="bold" text-anchor="middle" fill="#222">Elevation (feet)</text>
<text x="73.2" y="678.9" font-size="11" font-weight="bold" text-anchor="middle" fill="#222">A</text>
<text x="272.8" y="678.9" font-size="11" font-weight="bold" text-anchor="middle" fill="#222">B</text>
<text x="172.5" y="693.7" font-size="12" text-anchor="middle" fill="#333" letter-spacing="0.3" style="white-space:pre">( 1 )</text>
<path d="M367.7 584.1C368.5 584.4 371.1 584.9 372.3 585.8C373.6 586.7 374.4 587.6 375.2 589.3C376.0 591.0 376.5 593.3 377.4 596.1C378.3 598.9 379.2 602.3 380.8 606.3C382.4 610.3 384.7 615.8 386.8 619.9C388.9 624.0 391.3 627.7 393.6 631.0C395.9 634.3 398.1 637.1 400.4 639.5C402.7 641.9 404.6 643.7 407.2 645.5C409.8 647.3 412.9 649.4 415.7 650.2C418.5 651.1 421.6 650.8 424.2 650.6C426.8 650.4 428.4 649.8 431.0 648.9C433.6 648.0 437.1 646.4 439.6 645.1C442.1 643.9 442.7 643.5 445.9 641.4C449.1 639.3 454.4 635.6 458.7 632.3C463.0 628.9 467.2 625.3 471.5 621.3C475.8 617.3 480.4 612.5 484.3 608.5C488.2 604.5 491.6 600.6 495.2 597.6C498.8 594.6 502.5 592.4 506.2 590.3C509.9 588.2 512.9 586.1 517.1 584.8C521.4 583.5 526.5 583.0 531.7 582.6C536.9 582.2 543.5 582.4 548.1 582.4C552.7 582.4 556.0 582.3 559.1 582.6C562.2 582.9 565.5 584.0 566.8 584.3 L566.8 667.2 L367.7 667.2 Z" fill="#e4e4e4" stroke="none"/>
<path d="M367.7 667.2 H567.1" stroke="#666" stroke-width="1.15" fill="none"/>
<path d="M567.1 584.3 V667.8" stroke="#333" stroke-width="1.2" fill="none"/>
<path d="M367.7 584.1C368.5 584.4 371.1 584.9 372.3 585.8C373.6 586.7 374.4 587.6 375.2 589.3C376.0 591.0 376.5 593.3 377.4 596.1C378.3 598.9 379.2 602.3 380.8 606.3C382.4 610.3 384.7 615.8 386.8 619.9C388.9 624.0 391.3 627.7 393.6 631.0C395.9 634.3 398.1 637.1 400.4 639.5C402.7 641.9 404.6 643.7 407.2 645.5C409.8 647.3 412.9 649.4 415.7 650.2C418.5 651.1 421.6 650.8 424.2 650.6C426.8 650.4 428.4 649.8 431.0 648.9C433.6 648.0 437.1 646.4 439.6 645.1C442.1 643.9 442.7 643.5 445.9 641.4C449.1 639.3 454.4 635.6 458.7 632.3C463.0 628.9 467.2 625.3 471.5 621.3C475.8 617.3 480.4 612.5 484.3 608.5C488.2 604.5 491.6 600.6 495.2 597.6C498.8 594.6 502.5 592.4 506.2 590.3C509.9 588.2 512.9 586.1 517.1 584.8C521.4 583.5 526.5 583.0 531.7 582.6C536.9 582.2 543.5 582.4 548.1 582.4C552.7 582.4 556.0 582.3 559.1 582.6C562.2 582.9 565.5 584.0 566.8 584.3" fill="none" stroke="#222" stroke-width="1.6" stroke-linejoin="round"/>
<path d="M367.7 574.7 V667.8" stroke="#333" stroke-width="1.3" fill="none"/>
<path d="M364.1 575.3 H367.7" stroke="#333" stroke-width="1.1"/>
<text x="363.9" y="580.5" font-size="12" text-anchor="end" fill="#222">1700</text>
<path d="M364.7 584.5 H367.7" stroke="#333" stroke-width="1.1"/>
<path d="M364.1 593.7 H367.7" stroke="#333" stroke-width="1.1"/>
<text x="363.9" y="598.9" font-size="12" text-anchor="end" fill="#222">1500</text>
<path d="M364.7 602.9 H367.7" stroke="#333" stroke-width="1.1"/>
<path d="M364.1 612.1 H367.7" stroke="#333" stroke-width="1.1"/>
<text x="363.9" y="617.3" font-size="12" text-anchor="end" fill="#222">1300</text>
<path d="M364.7 621.2 H367.7" stroke="#333" stroke-width="1.1"/>
<path d="M364.1 630.4 H367.7" stroke="#333" stroke-width="1.1"/>
<text x="363.9" y="635.6" font-size="12" text-anchor="end" fill="#222">1100</text>
<path d="M364.7 639.6 H367.7" stroke="#333" stroke-width="1.1"/>
<path d="M364.1 648.8 H367.7" stroke="#333" stroke-width="1.1"/>
<text x="363.9" y="654.0" font-size="12" text-anchor="end" fill="#222">900</text>
<path d="M364.7 658.0 H367.7" stroke="#333" stroke-width="1.1"/>
<path d="M364.1 667.2 H367.7" stroke="#333" stroke-width="1.1"/>
<text x="363.9" y="672.4" font-size="12" text-anchor="end" fill="#222">700</text>
<text transform="translate(328.5 623.8) rotate(-90)" font-size="12" font-weight="bold" text-anchor="middle" fill="#222">Elevation (feet)</text>
<text x="369.2" y="678.5" font-size="11" font-weight="bold" text-anchor="middle" fill="#222">A</text>
<text x="568.1" y="678.5" font-size="11" font-weight="bold" text-anchor="middle" fill="#222">B</text>
<text x="467.8" y="692.8" font-size="12" text-anchor="middle" fill="#333" letter-spacing="0.3" style="white-space:pre">( 3 )</text>
<path d="M72.7 805.6C73.6 805.5 75.8 805.3 78.1 804.7C80.4 804.1 83.8 803.1 86.6 801.8C89.4 800.5 92.1 799.0 95.2 797.1C98.3 795.2 102.0 792.3 105.4 790.2C108.8 788.1 112.2 786.3 115.6 784.3C119.0 782.3 122.5 780.3 125.8 778.3C129.1 776.3 132.3 774.7 135.2 772.4C138.0 770.1 140.3 767.2 142.9 764.7C145.5 762.2 147.7 760.0 150.9 757.1C154.1 754.2 158.4 750.0 161.9 747.1C165.4 744.2 169.6 741.8 171.9 739.8C174.2 737.8 174.2 736.5 175.6 735.2C177.0 733.9 178.0 732.5 180.1 732.0C182.2 731.5 186.3 731.5 188.4 732.0C190.5 732.5 191.5 733.4 192.9 734.7C194.3 736.0 193.9 737.1 196.6 739.8C199.3 742.5 204.8 747.4 209.3 750.8C213.9 754.1 219.0 756.7 223.9 759.9C228.8 763.1 233.9 766.4 238.5 769.9C243.1 773.4 247.3 777.1 251.3 780.9C255.3 784.7 259.2 789.1 262.3 792.7C265.4 796.4 267.9 800.6 269.6 802.8C271.4 805.0 272.3 805.4 272.8 805.9 L272.8 824.0 L72.7 824.0 Z" fill="#e4e4e4" stroke="none"/>
<path d="M72.7 824.0 H272.8" stroke="#666" stroke-width="1.15" fill="none"/>
<path d="M272.8 805.9 V824.6" stroke="#333" stroke-width="1.2" fill="none"/>
<path d="M72.7 805.6C73.6 805.5 75.8 805.3 78.1 804.7C80.4 804.1 83.8 803.1 86.6 801.8C89.4 800.5 92.1 799.0 95.2 797.1C98.3 795.2 102.0 792.3 105.4 790.2C108.8 788.1 112.2 786.3 115.6 784.3C119.0 782.3 122.5 780.3 125.8 778.3C129.1 776.3 132.3 774.7 135.2 772.4C138.0 770.1 140.3 767.2 142.9 764.7C145.5 762.2 147.7 760.0 150.9 757.1C154.1 754.2 158.4 750.0 161.9 747.1C165.4 744.2 169.6 741.8 171.9 739.8C174.2 737.8 174.2 736.5 175.6 735.2C177.0 733.9 178.0 732.5 180.1 732.0C182.2 731.5 186.3 731.5 188.4 732.0C190.5 732.5 191.5 733.4 192.9 734.7C194.3 736.0 193.9 737.1 196.6 739.8C199.3 742.5 204.8 747.4 209.3 750.8C213.9 754.1 219.0 756.7 223.9 759.9C228.8 763.1 233.9 766.4 238.5 769.9C243.1 773.4 247.3 777.1 251.3 780.9C255.3 784.7 259.2 789.1 262.3 792.7C265.4 796.4 267.9 800.6 269.6 802.8C271.4 805.0 272.3 805.4 272.8 805.9" fill="none" stroke="#222" stroke-width="1.6" stroke-linejoin="round"/>
<path d="M72.7 731.7 V824.6" stroke="#333" stroke-width="1.3" fill="none"/>
<path d="M69.1 732.3 H72.7" stroke="#333" stroke-width="1.1"/>
<text x="68.9" y="737.5" font-size="12" text-anchor="end" fill="#222">1700</text>
<path d="M69.7 741.5 H72.7" stroke="#333" stroke-width="1.1"/>
<path d="M69.1 750.6 H72.7" stroke="#333" stroke-width="1.1"/>
<text x="68.9" y="755.8" font-size="12" text-anchor="end" fill="#222">1500</text>
<path d="M69.7 759.8 H72.7" stroke="#333" stroke-width="1.1"/>
<path d="M69.1 769.0 H72.7" stroke="#333" stroke-width="1.1"/>
<text x="68.9" y="774.2" font-size="12" text-anchor="end" fill="#222">1300</text>
<path d="M69.7 778.1 H72.7" stroke="#333" stroke-width="1.1"/>
<path d="M69.1 787.3 H72.7" stroke="#333" stroke-width="1.1"/>
<text x="68.9" y="792.5" font-size="12" text-anchor="end" fill="#222">1100</text>
<path d="M69.7 796.5 H72.7" stroke="#333" stroke-width="1.1"/>
<path d="M69.1 805.7 H72.7" stroke="#333" stroke-width="1.1"/>
<text x="68.9" y="810.9" font-size="12" text-anchor="end" fill="#222">900</text>
<path d="M69.7 814.8 H72.7" stroke="#333" stroke-width="1.1"/>
<path d="M69.1 824.0 H72.7" stroke="#333" stroke-width="1.1"/>
<text x="68.9" y="829.2" font-size="12" text-anchor="end" fill="#222">700</text>
<text transform="translate(31.3 782.6) rotate(-90)" font-size="12" font-weight="bold" text-anchor="middle" fill="#222">Elevation (feet)</text>
<text x="74.2" y="835.3" font-size="11" font-weight="bold" text-anchor="middle" fill="#222">A</text>
<text x="273.8" y="835.3" font-size="11" font-weight="bold" text-anchor="middle" fill="#222">B</text>
<text x="172.8" y="849.6" font-size="12" text-anchor="middle" fill="#333" letter-spacing="0.3" style="white-space:pre">( 2 )</text>
<path d="M369.4 805.9C370.0 805.3 371.8 803.7 373.1 802.2C374.4 800.7 376.3 799.1 377.4 797.1C378.5 795.1 378.6 793.1 379.9 790.2C381.2 787.4 383.4 783.4 385.1 780.0C386.8 776.6 388.2 773.3 390.2 769.8C392.2 766.2 394.7 762.1 397.0 758.7C399.3 755.3 401.5 752.1 403.8 749.4C406.1 746.7 408.2 744.4 410.6 742.5C413.0 740.6 415.8 739.0 418.3 738.3C420.9 737.6 423.2 737.6 425.9 738.3C428.6 739.0 431.1 740.7 434.4 742.5C437.7 744.3 441.8 746.5 445.9 748.9C449.9 751.3 454.4 754.5 458.7 757.1C463.0 759.7 467.2 762.1 471.5 764.4C475.8 766.7 480.7 768.9 484.3 770.8C487.9 772.7 490.4 773.7 493.4 775.8C496.4 777.9 499.5 780.5 502.5 783.6C505.5 786.7 508.9 791.2 511.6 794.6C514.3 798.0 516.8 801.3 518.9 803.7C521.0 806.1 522.4 807.4 524.4 808.8C526.4 810.2 527.8 811.4 530.8 811.9C533.8 812.4 539.2 812.1 542.7 811.9C546.2 811.6 548.8 811.0 551.8 810.4C554.8 809.8 557.9 808.9 560.9 808.2C563.9 807.5 568.1 806.5 569.5 806.1 L569.5 824.0 L369.4 824.0 Z" fill="#e4e4e4" stroke="none"/>
<path d="M369.4 824.0 H569.5" stroke="#666" stroke-width="1.15" fill="none"/>
<path d="M569.5 806.1 V824.6" stroke="#333" stroke-width="1.2" fill="none"/>
<path d="M369.4 805.9C370.0 805.3 371.8 803.7 373.1 802.2C374.4 800.7 376.3 799.1 377.4 797.1C378.5 795.1 378.6 793.1 379.9 790.2C381.2 787.4 383.4 783.4 385.1 780.0C386.8 776.6 388.2 773.3 390.2 769.8C392.2 766.2 394.7 762.1 397.0 758.7C399.3 755.3 401.5 752.1 403.8 749.4C406.1 746.7 408.2 744.4 410.6 742.5C413.0 740.6 415.8 739.0 418.3 738.3C420.9 737.6 423.2 737.6 425.9 738.3C428.6 739.0 431.1 740.7 434.4 742.5C437.7 744.3 441.8 746.5 445.9 748.9C449.9 751.3 454.4 754.5 458.7 757.1C463.0 759.7 467.2 762.1 471.5 764.4C475.8 766.7 480.7 768.9 484.3 770.8C487.9 772.7 490.4 773.7 493.4 775.8C496.4 777.9 499.5 780.5 502.5 783.6C505.5 786.7 508.9 791.2 511.6 794.6C514.3 798.0 516.8 801.3 518.9 803.7C521.0 806.1 522.4 807.4 524.4 808.8C526.4 810.2 527.8 811.4 530.8 811.9C533.8 812.4 539.2 812.1 542.7 811.9C546.2 811.6 548.8 811.0 551.8 810.4C554.8 809.8 557.9 808.9 560.9 808.2C563.9 807.5 568.1 806.5 569.5 806.1" fill="none" stroke="#222" stroke-width="1.6" stroke-linejoin="round"/>
<path d="M369.4 731.7 V824.6" stroke="#333" stroke-width="1.3" fill="none"/>
<path d="M365.8 732.3 H369.4" stroke="#333" stroke-width="1.1"/>
<text x="365.6" y="737.5" font-size="12" text-anchor="end" fill="#222">1700</text>
<path d="M366.4 741.5 H369.4" stroke="#333" stroke-width="1.1"/>
<path d="M365.8 750.6 H369.4" stroke="#333" stroke-width="1.1"/>
<text x="365.6" y="755.8" font-size="12" text-anchor="end" fill="#222">1500</text>
<path d="M366.4 759.8 H369.4" stroke="#333" stroke-width="1.1"/>
<path d="M365.8 769.0 H369.4" stroke="#333" stroke-width="1.1"/>
<text x="365.6" y="774.2" font-size="12" text-anchor="end" fill="#222">1300</text>
<path d="M366.4 778.1 H369.4" stroke="#333" stroke-width="1.1"/>
<path d="M365.8 787.3 H369.4" stroke="#333" stroke-width="1.1"/>
<text x="365.6" y="792.5" font-size="12" text-anchor="end" fill="#222">1100</text>
<path d="M366.4 796.5 H369.4" stroke="#333" stroke-width="1.1"/>
<path d="M365.8 805.7 H369.4" stroke="#333" stroke-width="1.1"/>
<text x="365.6" y="810.9" font-size="12" text-anchor="end" fill="#222">900</text>
<path d="M366.4 814.8 H369.4" stroke="#333" stroke-width="1.1"/>
<path d="M365.8 824.0 H369.4" stroke="#333" stroke-width="1.1"/>
<text x="365.6" y="829.2" font-size="12" text-anchor="end" fill="#222">700</text>
<text transform="translate(327.5 782.1) rotate(-90)" font-size="12" font-weight="bold" text-anchor="middle" fill="#222">Elevation (feet)</text>
<text x="370.9" y="835.3" font-size="11" font-weight="bold" text-anchor="middle" fill="#222">A</text>
<text x="570.5" y="835.3" font-size="11" font-weight="bold" text-anchor="middle" fill="#222">B</text>
<text x="469.1" y="849.6" font-size="12" text-anchor="middle" fill="#333" letter-spacing="0.3" style="white-space:pre">( 4 )</text>
</svg></body></html>
